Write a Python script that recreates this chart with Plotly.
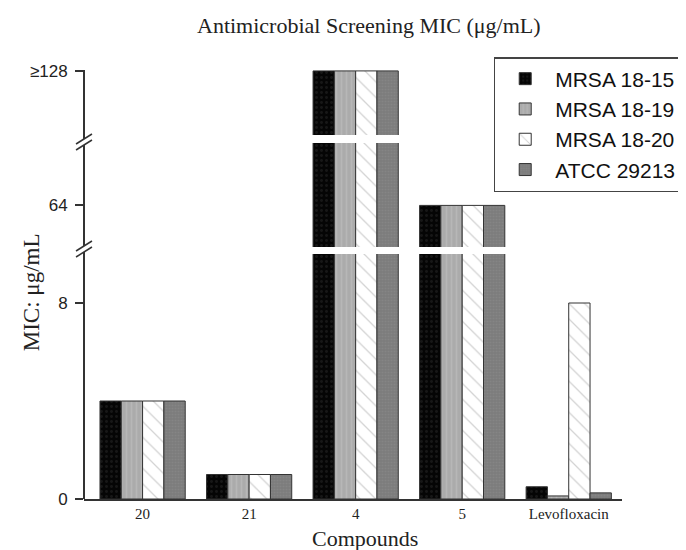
import plotly.graph_objects as go

compounds = ["20", "21", "4", "5", "Levofloxacin"]
strains = ["MRSA 18-15", "MRSA 18-19", "MRSA 18-20", "ATCC 29213"]
mrsa_18_15 = [4, 1, 128, 64, 0.5]
mrsa_18_19 = [4, 1, 128, 64, 0.125]
mrsa_18_20 = [4, 1, 128, 64, 8]
atcc_29213 = [4, 1, 128, 64, 0.25]
series = [mrsa_18_15, mrsa_18_19, mrsa_18_20, atcc_29213]

tick_vals_low = [0, 8]
tick_vals_mid = [64]
tick_vals_top = [128]
tick_text_top = ["≥128"]

styles = [
    dict(color="#050505", pattern=dict(shape=".", fgcolor="#2a2a2a", size=5, solidity=0.25, fillmode="overlay")),
    dict(color="#ababab", pattern=dict(shape="|", fgcolor="#c4c4c4", size=5, solidity=0.3, fillmode="overlay")),
    dict(color="#ffffff", pattern=dict(shape="\\", fgcolor="#a8a8a8", size=11, solidity=0.12, fillmode="overlay")),
    dict(color="#7b7b7b", pattern=dict(shape=".", fgcolor="#909090", size=3, solidity=0.4, fillmode="overlay")),
]

fig = go.Figure()
for i, (name, vals) in enumerate(zip(strains, series)):
    for j, ya in enumerate(["y", "y2", "y3"]):
        fig.add_trace(go.Bar(
            x=compounds, y=vals, name=name, yaxis=ya, xaxis="x",
            legendgroup=name, showlegend=(j == 0),
            marker=dict(color=styles[i]["color"], pattern=styles[i]["pattern"],
                        line=dict(color="#333333", width=1)),
        ))

serif = "Liberation Serif, Times New Roman, serif"
sans = "Liberation Sans, Arial, sans-serif"

W, H = 686, 550
OFF = 8  # page body margin
left_pg, right_pg, top_pg, bot_pg = 84, 625, 70, 499
ml = left_pg - OFF
mt = top_pg - OFF
mr = W - (right_pg - OFF)
mb = H - (bot_pg - OFF)
pw, ph = right_pg - left_pg, bot_pg - top_pg

def py(pix):
    return (bot_pg - pix) / ph

def px(pix):
    return (pix - left_pg) / pw

yax_common = dict(showgrid=False, zeroline=False, showline=False, ticks="outside",
                  ticklen=8, tickwidth=1.5, tickcolor="#333", ticklabelstandoff=4,
                  tickfont=dict(family=sans, size=17, color="#222"), anchor="x")

fig.update_layout(
    width=W, height=H,
    margin=dict(l=ml, r=mr, t=mt, b=mb),
    paper_bgcolor="white", plot_bgcolor="white",
    barmode="group", bargap=0.2, bargroupgap=0,
    xaxis=dict(type="category", range=[-0.55, 4.5], showgrid=False, zeroline=False,
               showline=True, linecolor="#333", linewidth=2, ticks="",
               ticklabelstandoff=0,
               tickfont=dict(family=serif, size=15, color="#222")),
    yaxis=dict(domain=[0, py(254)], range=[0, 10], tickvals=tick_vals_low,
               ticktext=[str(v) for v in tick_vals_low], **yax_common),
    yaxis2=dict(domain=[py(247), py(143)], range=[40, 100], tickvals=tick_vals_mid,
                ticktext=[str(v) for v in tick_vals_mid], **yax_common),
    yaxis3=dict(domain=[py(135), 1], range=[100, 128.4], tickvals=tick_vals_top,
                ticktext=tick_text_top, **yax_common),
    legend=dict(x=px(496), y=py(57), xanchor="left", yanchor="top",
                font=dict(family=sans, size=21, color="#111"),
                bgcolor="white", bordercolor="#444", borderwidth=1.5,
                tracegroupgap=0, itemwidth=50),
    showlegend=True,
)

shapes = [dict(type="line", xref="paper", yref="paper", x0=0, x1=0, y0=0, y1=1,
               line=dict(color="#333", width=2), layer="above")]
for ybrk in [142, 249]:
    shapes.append(dict(type="rect", xref="paper", yref="paper",
                       x0=px(81), x1=px(87), y0=py(ybrk + 3), y1=py(ybrk - 3),
                       fillcolor="white", line=dict(width=0), layer="above"))
    for off in [-3, 3]:
        shapes.append(dict(type="line", xref="paper", yref="paper",
                           x0=px(76), y0=py(ybrk + off + 5), x1=px(92), y1=py(ybrk + off - 5),
                           line=dict(color="#333", width=1.5), layer="above"))
fig.update_layout(shapes=shapes)

fig.add_annotation(text="Antimicrobial Screening MIC (μg/mL)", xref="paper", yref="paper",
                   x=px(371), y=py(25), showarrow=False, xanchor="center", yanchor="middle",
                   font=dict(family=serif, size=22, color="#222"))
fig.add_annotation(text="MIC: μg/mL", xref="paper", yref="paper",
                   x=px(31), y=py(292), showarrow=False, textangle=-90,
                   xanchor="center", yanchor="middle",
                   font=dict(family=serif, size=23, color="#222"))
fig.add_annotation(text="Compounds", xref="paper", yref="paper",
                   x=px(367), y=py(538), showarrow=False, xanchor="center", yanchor="middle",
                   font=dict(family=serif, size=22, color="#222"))

fig.write_html("out.html")
